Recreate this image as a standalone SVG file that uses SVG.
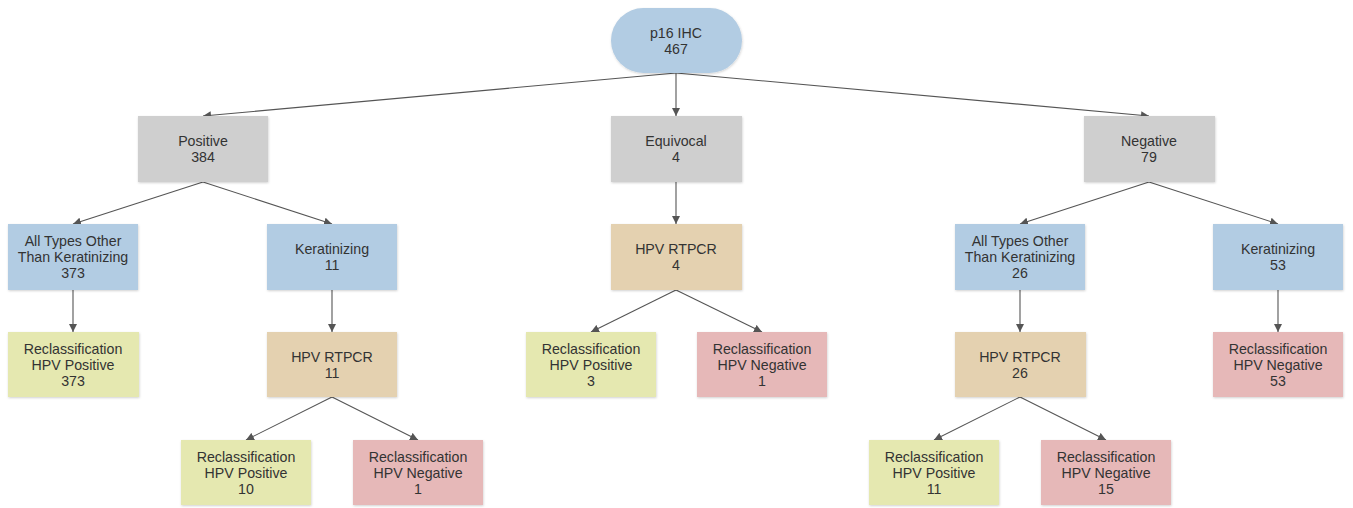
<svg xmlns="http://www.w3.org/2000/svg" width="1353" height="508" viewBox="0 0 1353 508">
<style>
text{font-family:"Liberation Sans",Arial,sans-serif;font-size:14.2px;fill:#333;text-anchor:middle}
.g{fill:#cfcfcf}.b{fill:#b2cce3}.t{fill:#e4d1b0}.y{fill:#e5e8b0}.p{fill:#e6b8b8}
.c line{stroke:#555;stroke-width:1.1;fill:none;marker-end:url(#ah)}
.n rect{filter:url(#sh)}
</style>
<defs>
<marker id="ah" viewBox="0 0 10 10" refX="10" refY="5" markerWidth="8" markerHeight="8" markerUnits="userSpaceOnUse" orient="auto"><path d="M0,0L10,5L0,10z" fill="#555"/></marker>
<filter id="sh" x="-5%" y="-5%" width="110%" height="115%"><feDropShadow dx="0.5" dy="1" stdDeviation="0.8" flood-color="#000" flood-opacity="0.18"/></filter>
</defs>
<g class="c" id="connectors">
<line x1="676" y1="73" x2="203" y2="116"/>
<line x1="676" y1="73" x2="676" y2="116"/>
<line x1="676" y1="73" x2="1149" y2="116"/>
<line x1="203" y1="182" x2="73" y2="224"/>
<line x1="203" y1="182" x2="332" y2="224"/>
<line x1="73" y1="290" x2="73" y2="332"/>
<line x1="332" y1="290" x2="332" y2="332"/>
<line x1="332" y1="397" x2="246" y2="440"/>
<line x1="332" y1="397" x2="418" y2="440"/>
<line x1="676" y1="182" x2="676" y2="224"/>
<line x1="676" y1="290" x2="591" y2="332"/>
<line x1="676" y1="290" x2="762" y2="332"/>
<line x1="1149" y1="182" x2="1020" y2="224"/>
<line x1="1149" y1="182" x2="1278" y2="224"/>
<line x1="1020" y1="290" x2="1020" y2="332"/>
<line x1="1278" y1="290" x2="1278" y2="332"/>
<line x1="1020" y1="397" x2="934" y2="440"/>
<line x1="1020" y1="397" x2="1106" y2="440"/>
</g>
<g class="n" id="n-root"><rect class="b" x="611" y="8" width="131" height="65" rx="32.5"/><text x="676" y="38">p16 IHC</text><text x="676" y="54">467</text></g>
<g class="n" id="n-pos"><rect class="g" x="138" y="116" width="130" height="66"/><text x="203" y="146">Positive</text><text x="203" y="162">384</text></g>
<g class="n" id="n-equ"><rect class="g" x="611" y="116" width="131" height="66"/><text x="676" y="146">Equivocal</text><text x="676" y="162">4</text></g>
<g class="n" id="n-neg"><rect class="g" x="1084" y="116" width="131" height="66"/><text x="1149" y="146">Negative</text><text x="1149" y="162">79</text></g>
<g class="n" id="n-pos-other"><rect class="b" x="8" y="224" width="130" height="66"/><text x="73" y="246">All Types Other</text><text x="73" y="262">Than Keratinizing</text><text x="73" y="278">373</text></g>
<g class="n" id="n-pos-ker"><rect class="b" x="267" y="224" width="130" height="66"/><text x="332" y="254">Keratinizing</text><text x="332" y="270">11</text></g>
<g class="n" id="n-equ-pcr"><rect class="t" x="611" y="224" width="131" height="66"/><text x="676" y="254">HPV RTPCR</text><text x="676" y="270">4</text></g>
<g class="n" id="n-neg-other"><rect class="b" x="955" y="224" width="130" height="66"/><text x="1020" y="246">All Types Other</text><text x="1020" y="262">Than Keratinizing</text><text x="1020" y="278">26</text></g>
<g class="n" id="n-neg-ker"><rect class="b" x="1213" y="224" width="130" height="66"/><text x="1278" y="254">Keratinizing</text><text x="1278" y="270">53</text></g>
<g class="n" id="n-r1"><rect class="y" x="8" y="332" width="131" height="65"/><text x="73" y="354">Reclassification</text><text x="73" y="370">HPV Positive</text><text x="73" y="386">373</text></g>
<g class="n" id="n-pos-pcr"><rect class="t" x="267" y="332" width="130" height="65"/><text x="332" y="362">HPV RTPCR</text><text x="332" y="378">11</text></g>
<g class="n" id="n-r3"><rect class="y" x="526" y="332" width="130" height="65"/><text x="591" y="354">Reclassification</text><text x="591" y="370">HPV Positive</text><text x="591" y="386">3</text></g>
<g class="n" id="n-r4"><rect class="p" x="697" y="332" width="130" height="65"/><text x="762" y="354">Reclassification</text><text x="762" y="370">HPV Negative</text><text x="762" y="386">1</text></g>
<g class="n" id="n-neg-pcr"><rect class="t" x="955" y="332" width="131" height="65"/><text x="1020" y="362">HPV RTPCR</text><text x="1020" y="378">26</text></g>
<g class="n" id="n-r5"><rect class="p" x="1213" y="332" width="130" height="65"/><text x="1278" y="354">Reclassification</text><text x="1278" y="370">HPV Negative</text><text x="1278" y="386">53</text></g>
<g class="n" id="n-r6"><rect class="y" x="181" y="440" width="130" height="65"/><text x="246" y="462">Reclassification</text><text x="246" y="478">HPV Positive</text><text x="246" y="494">10</text></g>
<g class="n" id="n-r7"><rect class="p" x="353" y="440" width="130" height="65"/><text x="418" y="462">Reclassification</text><text x="418" y="478">HPV Negative</text><text x="418" y="494">1</text></g>
<g class="n" id="n-r8"><rect class="y" x="869" y="440" width="130" height="65"/><text x="934" y="462">Reclassification</text><text x="934" y="478">HPV Positive</text><text x="934" y="494">11</text></g>
<g class="n" id="n-r9"><rect class="p" x="1041" y="440" width="130" height="65"/><text x="1106" y="462">Reclassification</text><text x="1106" y="478">HPV Negative</text><text x="1106" y="494">15</text></g>
</svg>
